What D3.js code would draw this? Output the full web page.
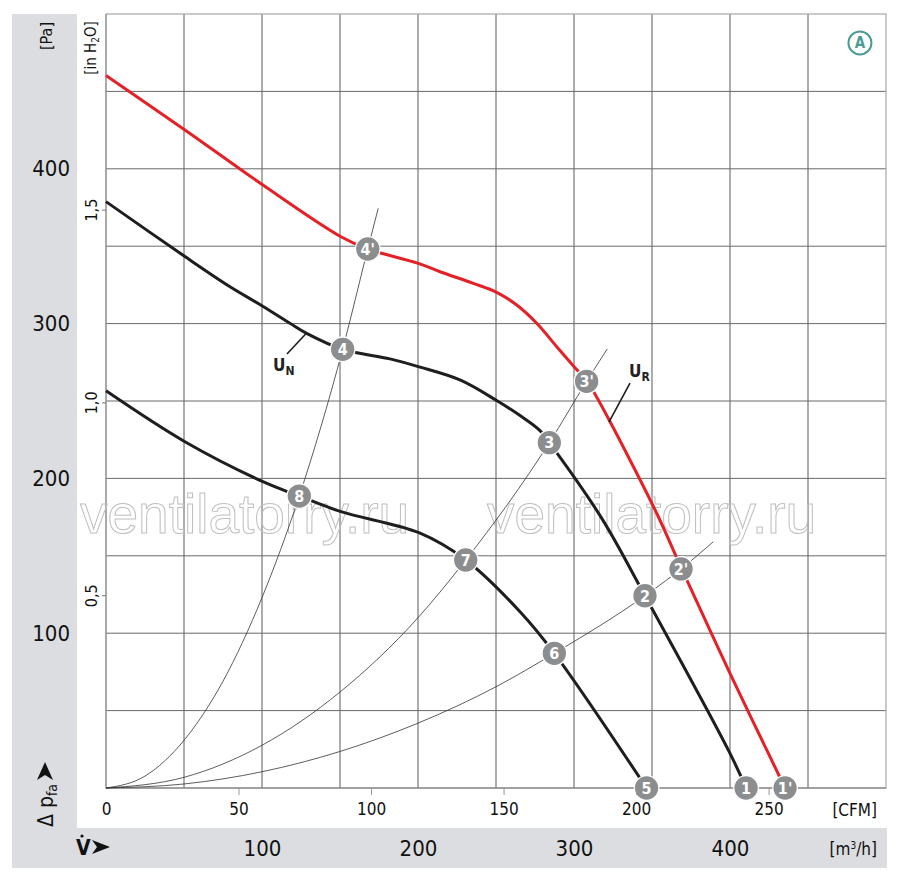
<!DOCTYPE html>
<html><head><meta charset="utf-8">
<script src="https://cdn.jsdelivr.net/npm/d3@7"></script>
<style>body{margin:0;background:#fff}svg{display:block}</style>
</head><body><svg id="c" width="900" height="880"></svg>
<script>
// ---- data (flow in m³/h, pressure in Pa) ----
const flowGrid = [50,100,150,200,250,300,350,400,450];
const pressureGrid = [50,100,150,200,250,300,350,400,450];
const pressureTicks = [100,200,300,400];
const flowTicks = [100,200,300,400];
const cfmTicks = [0,50,100,150,200,250];
const inH2OTicks = [0.5,1.0,1.5];

const curveUR = [[0,460.2],[50.6,425.1],[100.6,389.5],[150.6,356.1],[167.8,348.2],[200.2,338.9],[214.1,333.5],[235.4,326.0],[250.4,320.2],[263.3,312.0],[276.1,300.2],[288.9,285.1],[300.2,272.0],[308.1,263.1],[315.6,250.6],[353,177.5],[368.6,142.5],[400,74.1],[435.3,0]];
const curveUN = [[0,378.8],[50.6,343.3],[79.5,323.8],[100.2,311.4],[117.9,300.2],[128.6,293.7],[151.7,283.4],[182,277.2],[200.2,272.2],[226.9,263.6],[250.4,250.3],[265.4,240.6],[278.2,230.9],[284.2,223.1],[317.8,174.2],[345.5,124.2],[400,22.4],[410.3,0]];
const curveLow = [[0,256.6],[50.6,223.7],[100.6,197.9],[123.9,188.6],[150.6,178.5],[200.6,164.9],[230.6,147.3],[265.4,113.9],[287.4,87.0],[346.5,0]];

const systemA = [[0,0],[25,7.7],[50,30.8],[75,69],[100,123],[123.9,188.6],[151.7,283.4],[167.8,348.2],[174.5,374.5]];
const systemB = [[0,0],[50,6.9],[100,27.6],[150,62],[200,110],[230.6,147.3],[284.2,223.1],[308.1,262.7],[321.3,283.6]];
const systemC = [[0,0],[50,2.6],[100,10.5],[150,23.6],[200,41.9],[250,65.4],[287.4,87],[345.5,124.2],[368.6,141.5],[389.3,159.1]];

const markerLabels = ["1","2","3","4","5","6","7","8","1'","2'","3'","4'"];
const markerFlow = [410.3,345.5,284.2,151.7,346.5,287.4,230.6,123.9,435.3,368.6,308.1,167.8];
const markerPressure = [0,124.2,223.1,283.4,0,87.0,147.3,188.6,0,141.5,262.7,348.2];

const M3H_PER_CFM = 1.699;
const PA_PER_INH2O = 249.09;
const watermark = "ventilatorry.ru";

// ---- layout ----
const L=106, R=886, T=14, B=788;
const FONT = "'Liberation Sans Narrow','DejaVu Sans Condensed',Roboto,sans-serif";
const svg = d3.select("#c");
const x = d3.scaleLinear().domain([0,500]).range([L,R]);
const y = d3.scaleLinear().domain([0,500]).range([B,T]);
const xc = d3.scaleLinear().domain([0,500/M3H_PER_CFM]).range([L,R]);
const yi = d3.scaleLinear().domain([0,500/PA_PER_INH2O]).range([B,T]);

const gray = "#dcdde0";
svg.append("rect").attr("x",12).attr("y",14).attr("width",65).attr("height",854).attr("fill",gray);
svg.append("rect").attr("x",12).attr("y",828).attr("width",875).attr("height",40).attr("fill",gray);

// grid
const grid = svg.append("g");
grid.selectAll(".gv").data(flowGrid).join("line")
  .attr("x1",d=>x(d)).attr("x2",d=>x(d)).attr("y1",T).attr("y2",B)
  .attr("stroke","#5a5a5a").attr("stroke-width",1);
grid.selectAll(".gh").data(pressureGrid).join("line")
  .attr("y1",d=>y(d)).attr("y2",d=>y(d)).attr("x1",L).attr("x2",R)
  .attr("stroke","#6a6a6a").attr("stroke-width",1);
svg.append("rect").attr("x",L).attr("y",T).attr("width",R-L).attr("height",B-T)
  .attr("fill","none").attr("stroke","#a8a8a8").attr("stroke-width",1.2);
svg.append("line").attr("x1",L).attr("x2",R).attr("y1",B).attr("y2",B).attr("stroke","#777");
svg.append("line").attr("x1",L).attr("x2",L).attr("y1",T).attr("y2",B).attr("stroke","#888");

// watermark
[80, 487].forEach(px=>{
  svg.append("text").attr("x",px).attr("y",533).text(watermark)
    .attr("font-family","'Liberation Sans',Arial,sans-serif").attr("font-size",55)
    .attr("fill","none").attr("stroke","#bfbfbf").attr("stroke-width",1);
});

// system curves
const line = d3.line().x(d=>x(d[0])).y(d=>y(d[1])).curve(d3.curveMonotoneX);
[systemA, systemB, systemC].forEach(s=>{
  svg.append("path").attr("d",line(s)).attr("fill","none").attr("stroke","#333").attr("stroke-width",0.8);
});
// fan curves
const fanLine = d3.line().x(d=>x(d[0])).y(d=>y(d[1])).curve(d3.curveCatmullRom.alpha(0.5));
svg.append("path").attr("d",fanLine(curveLow)).attr("fill","none").attr("stroke","#1e1e1e").attr("stroke-width",3);
svg.append("path").attr("d",fanLine(curveUN)).attr("fill","none").attr("stroke","#1e1e1e").attr("stroke-width",3);
svg.append("path").attr("d",fanLine(curveUR)).attr("fill","none").attr("stroke","#e42127").attr("stroke-width",3);

// U labels + leaders
const ann = [
  {lab:"N", tx:107.1, tp:269.4, l1:[116.0,280.4], l2:[128.0,293.3]},
  {lab:"R", tx:335.3, tp:265.5, l1:[335.9,261.6], l2:[322.4,236.4]}
];
ann.forEach(a=>{
  svg.append("line").attr("x1",x(a.l1[0])).attr("y1",y(a.l1[1])).attr("x2",x(a.l2[0])).attr("y2",y(a.l2[1]))
    .attr("stroke","#1e1e1e").attr("stroke-width",1.6);
  const t = svg.append("text").attr("x",x(a.tx)).attr("y",y(a.tp)).attr("font-family",FONT)
    .attr("font-size",17).attr("font-weight","bold").attr("fill","#222");
  t.append("tspan").text("U");
  t.append("tspan").attr("font-size",12).attr("dy",4).text(a.lab);
});

// markers
const mk = svg.append("g").selectAll("g").data(markerLabels.map((l,i)=>({l, q:markerFlow[i], p:markerPressure[i]})))
  .join("g").attr("transform",d=>`translate(${x(d.q)},${y(d.p)})`);
mk.append("circle").attr("r",12.3).attr("fill","#8c8d8f").attr("stroke","#fff").attr("stroke-width",1.3);
mk.append("text").text(d=>d.l).attr("text-anchor","middle").attr("dy","0.36em")
  .attr("font-family",FONT).attr("font-size",16).attr("font-weight","bold").attr("fill","#fff");

// A badge
const badge = svg.append("g").attr("transform",`translate(${x(483.3)},${y(481.3)})`);
badge.append("circle").attr("r",11.5).attr("fill","none").attr("stroke","#4a9b94").attr("stroke-width",2);
badge.append("text").text("A").attr("text-anchor","middle").attr("dy","0.36em").attr("font-family",FONT)
  .attr("font-size",15).attr("font-weight","bold").attr("fill","#4a9b94");

// axes
function styleAxis(g,size){
  g.select(".domain").remove();
  g.selectAll("text").attr("font-family",FONT).attr("font-size",size).attr("fill","#111");
}
svg.append("g").attr("transform","translate(70,0)")
  .call(d3.axisLeft(y).tickValues(pressureTicks).tickSize(0).tickPadding(0).tickFormat(d3.format("d")))
  .call(g=>styleAxis(g,22));
svg.append("g").attr("transform",`translate(0,${B})`)
  .call(d3.axisBottom(xc).tickValues(cfmTicks).tickSize(7).tickPadding(8).tickFormat(d3.format("d")))
  .call(g=>{styleAxis(g,17); g.selectAll("line").attr("stroke","#999"); g.selectAll(".tick").filter(d=>d===0).select("line").remove();});
svg.append("g").attr("transform","translate(0,840)")
  .call(d3.axisBottom(x).tickValues(flowTicks).tickSize(0).tickPadding(0).tickFormat(d3.format("d")))
  .call(g=>styleAxis(g,22));
svg.append("g").attr("transform",`translate(${L},0)`)
  .call(d3.axisLeft(yi).tickValues(inH2OTicks).tickSize(4).tickFormat(d=>d3.format(".1f")(d).replace(".",",")))
  .call(g=>{styleAxis(g,16); g.selectAll("line").attr("stroke","#777");
    g.selectAll("text").attr("transform","rotate(-90)").attr("x",0).attr("y",-9).attr("dy",0).attr("text-anchor","middle");});

// unit labels
function rotText(px,py,size){
  return svg.append("text").attr("transform",`translate(${px},${py}) rotate(-90)`).attr("text-anchor","middle")
    .attr("font-family",FONT).attr("font-size",size).attr("fill","#111");
}
rotText(52,36,16).text("[Pa]");
const ih = rotText(96,48,15);
ih.append("tspan").text("[in H");
ih.append("tspan").attr("font-size",10).attr("dy",3).text("2");
ih.append("tspan").attr("dy",-3).text("O]");
svg.append("text").attr("x",877).attr("y",816).attr("text-anchor","end").attr("font-family",FONT).attr("font-size",17).attr("fill","#111").text("[CFM]");
const mh = svg.append("text").attr("x",877).attr("y",855).attr("text-anchor","end").attr("font-family",FONT).attr("font-size",17).attr("fill","#111");
mh.append("tspan").text("[m");
mh.append("tspan").attr("font-size",10).attr("dy",-6).text("3");
mh.append("tspan").attr("dy",6).text("/h]");

// Δ p_fa label with arrow
const dp = svg.append("text").attr("transform","translate(53,827) rotate(-90)")
  .attr("font-family",FONT).attr("font-size",21).attr("fill","#111");
dp.append("tspan").text("Δ p");
dp.append("tspan").attr("font-size",14).attr("dy",4).text("fa");
svg.append("path").attr("transform","translate(45,771)").attr("d","M0,-9L8,9L0,4L-8,9Z").attr("fill","#111");
// V-dot label with arrow
svg.append("text").attr("x",76).attr("y",855).attr("font-family",FONT).attr("font-size",21).attr("font-weight","bold").attr("fill","#111").text("V");
svg.append("circle").attr("cx",82).attr("cy",836).attr("r",1.6).attr("fill","#111");
svg.append("path").attr("transform","translate(101,847)").attr("d","M-9,-7L9,0L-9,7L-4,0Z").attr("fill","#111");
</script></body></html>
